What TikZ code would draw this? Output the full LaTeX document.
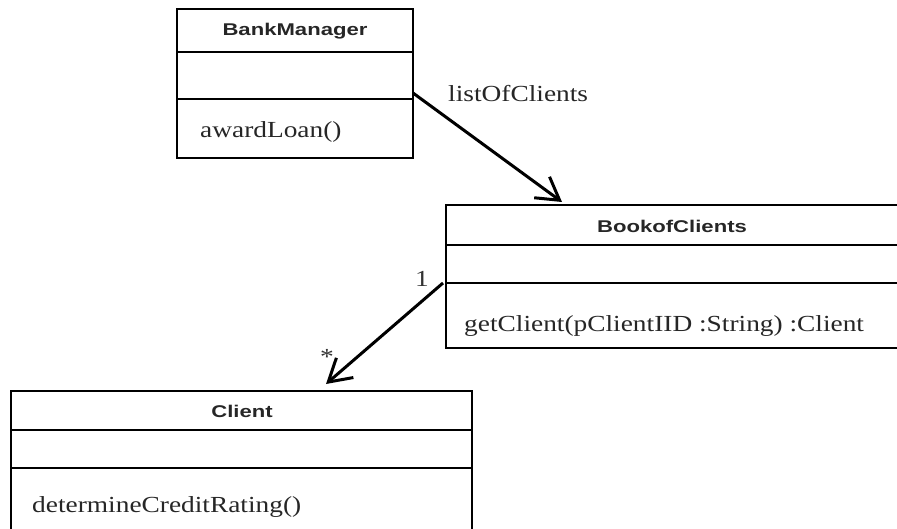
\documentclass[tikz,border=0pt]{standalone}
\usepackage{fontspec}
\setmainfont[FakeStretch=1.19]{Liberation Serif}
\newfontfamily\titlefont[FakeStretch=1.3]{Liberation Sans}
\usetikzlibrary{arrows.meta}
\begin{document}
\begin{tikzpicture}[x=1pt,y=-1pt,
  classbox/.style={draw=black, line width=2pt, rectangle, inner sep=0pt, outer sep=0pt, anchor=north west},
  divider/.style={draw=black, line width=1.6pt},
  title/.style={font=\titlefont\fontsize{17}{20}\selectfont\bfseries, text=black!85, inner sep=0pt},
  member/.style={font=\fontsize{23}{27}\selectfont, text=black!85, inner sep=0pt, anchor=base west},
  mult/.style={font=\fontsize{23}{27}\selectfont, text=black!80, inner sep=0pt},
  assoc/.style={draw=black, line width=3pt, -{Straight Barb[length=22pt,width=26pt]}}]
\useasboundingbox (0,0) rectangle (897,529);
% BankManager
\node[classbox, minimum width=236pt, minimum height=149pt] (bm) at (177,9) {};
\draw[divider] (bm.west |- 0,52) -- (bm.east |- 0,52);
\draw[divider] (bm.west |- 0,99) -- (bm.east |- 0,99);
\node[title] (bmt) at (295,31) {BankManager};
\node[member] (bmop) at (200,138) {awardLoan()};
% BookofClients
\node[classbox, minimum width=454pt, minimum height=143pt] (bc) at (446,205) {};
\draw[divider] (bc.west |- 0,245) -- (bc.east |- 0,245);
\draw[divider] (bc.west |- 0,283) -- (bc.east |- 0,283);
\node[title] (bct) at (672,226) {BookofClients};
\node[member] (bcop) at (464,332) {getClient(pClientIID :String) :Client};
% Client
\node[classbox, minimum width=461pt, minimum height=160pt] (cl) at (11,391) {};
\draw[divider] (cl.west |- 0,430) -- (cl.east |- 0,430);
\draw[divider] (cl.west |- 0,468) -- (cl.east |- 0,468);
\node[title] (clt) at (242,411) {Client};
\node[member] (clop) at (32,512) {determineCreditRating()};
% associations
\coordinate (a1s) at (bm.east |- 0,93);
\coordinate (a1e) at (562,202);
\draw[assoc] (a1s) -- (a1e);
\node[member] (a1l) at (448,102) {listOfClients};
\coordinate (a2s) at (443,283);
\coordinate (a2e) at (326,384);
\draw[assoc] (a2s) -- (a2e);
\node[mult, anchor=base east] (m1) at (429,287) {1};
\node[mult] (m2) at (327,357) {*};
\end{tikzpicture}
\end{document}
